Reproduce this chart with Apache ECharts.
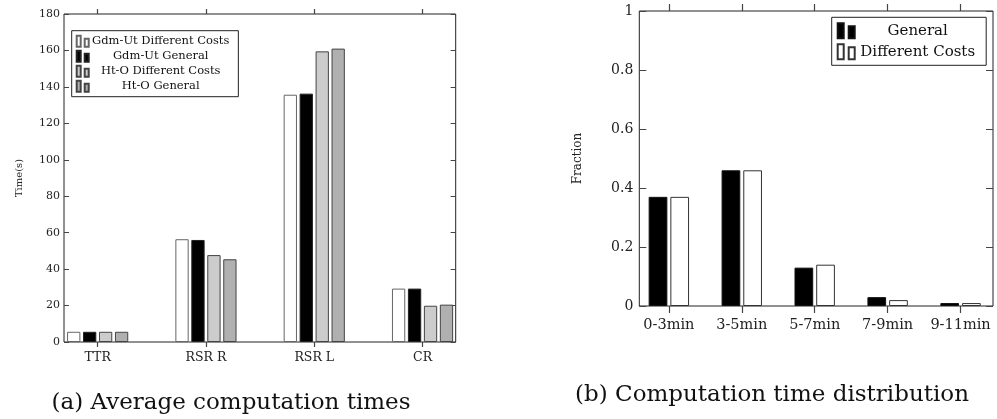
<!DOCTYPE html>
<html>
<head>
<meta charset="utf-8">
<script src="https://cdn.jsdelivr.net/npm/echarts@6/dist/echarts.min.js"></script>
<style>
  html, body { margin: 0; padding: 0; background: #fff; }
  #chart { width: 997px; height: 419px; }
</style>
</head>
<body>
<div id="chart"></div>
<script>
// (a) average computation times
const catsA = ['TTR', 'RSR R', 'RSR L', 'CR']
const gdmDiff = [5.6, 56.4, 135.7, 29.3]
const gdmGen = [5.6, 56.0, 136.3, 29.3]
const htoDiff = [5.6, 47.7, 159.5, 19.9]
const htoGen = [5.6, 45.4, 161.0, 20.5]
const ticksA = { min: 0, max: 180, interval: 20 }

// (b) computation time distribution
const catsB = ['0-3min', '3-5min', '5-7min', '7-9min', '9-11min']
const general = [0.37, 0.46, 0.13, 0.03, 0.01]
const diffCosts = [0.37, 0.46, 0.14, 0.02, 0.01]
const ticksB = { min: 0, max: 1, interval: 0.2 }

const font = 'DejaVu Serif'
const tickColor = '#444'
const myChart = echarts.init(document.getElementById('chart'))

// frame grid + wider band grid so category centres sit where pgfplots put them
function frameAxes (grid, ticks, fontSize, tickLen, labelMargin, name, nameGap, nameSize) {
  return [
    {
      gridIndex: grid, type: 'value', min: ticks.min, max: ticks.max, interval: ticks.interval,
      name: name, nameLocation: 'middle', nameGap: nameGap,
      nameTextStyle: { fontFamily: font, fontSize: nameSize, color: '#222' },
      axisLine: { show: false },
      axisTick: { inside: true, length: tickLen, lineStyle: { color: tickColor } },
      axisLabel: { fontFamily: font, fontSize: fontSize, color: '#222', margin: labelMargin },
      splitLine: { show: false }
    },
    {
      gridIndex: grid, type: 'value', position: 'right', min: ticks.min, max: ticks.max, interval: ticks.interval,
      axisLine: { show: false },
      axisTick: { inside: true, length: tickLen, lineStyle: { color: tickColor } },
      axisLabel: { show: false },
      splitLine: { show: false }
    }
  ]
}

function bandAxes (grid, cats, fontSize, tickLen, labelMargin) {
  return [
    {
      gridIndex: grid, type: 'category', data: cats, position: 'bottom',
      axisLine: { show: true, onZero: false, lineStyle: { color: 'rgba(0,0,0,0)' } },
      axisTick: { show: true, interval: 0, alignWithLabel: true, length: tickLen, lineStyle: { color: tickColor, width: 1.2 } },
      axisLabel: { interval: 0, fontFamily: font, fontSize: fontSize, color: '#222', margin: labelMargin }
    },
    {
      gridIndex: grid, type: 'category', data: cats, position: 'top',
      axisLine: { show: true, onZero: false, lineStyle: { color: 'rgba(0,0,0,0)' } },
      axisTick: { show: true, interval: 0, alignWithLabel: true, length: tickLen, lineStyle: { color: tickColor, width: 1.2 } },
      axisLabel: { show: false }
    }
  ]
}

function barSeries (name, data, color, border, xi, yi, width, gap) {
  return {
    name: name, type: 'bar', data: data, xAxisIndex: xi, yAxisIndex: yi,
    barWidth: width, barGap: gap,
    itemStyle: { color: color, borderColor: border, borderWidth: 1 }
  }
}

const option = {
  animation: false,
  backgroundColor: '#fff',
  title: [
    { text: '(a) Average computation times', left: 226, top: 387, textAlign: 'center',
      textStyle: { fontFamily: font, fontSize: 23, fontWeight: 'normal', color: '#111' } },
    { text: '(b) Computation time distribution', left: 767, top: 379, textAlign: 'center',
      textStyle: { fontFamily: font, fontSize: 23, fontWeight: 'normal', color: '#111' } }
  ],
  grid: [
    { left: 64, top: 14, width: 391.7, height: 328, show: true, borderColor: '#222', borderWidth: 1 },
    { left: 43.5, top: 14, width: 433.2, height: 328 },
    { left: 639.3, top: 11, width: 353.7, height: 295, show: true, borderColor: '#222', borderWidth: 1 },
    { left: 632.4, top: 11, width: 368.75, height: 295 }
  ],
  legend: [
    {
      orient: 'vertical', left: 71.7, top: 30.7, padding: [4, 9, 4, 4], itemGap: 2,
      itemWidth: 13, itemHeight: 11, borderColor: '#222', borderWidth: 1, backgroundColor: '#fff',
      icon: 'path://M0,0h4v11h-4z M8,3h4v8h-4z',
      formatter: '{t|{name}}',
      textStyle: { fontFamily: font, fontSize: 11.5, color: '#111',
        rich: { t: { width: 133, align: 'center', fontFamily: font, fontSize: 11.5, lineHeight: 14, color: '#111' } } },
      data: ['Gdm-Ut Different Costs', 'Gdm-Ut General', 'Ht-O Different Costs', 'Ht-O General']
    },
    {
      orient: 'vertical', left: 831.7, top: 17.3, padding: [5, 11, 5, 5], itemGap: 4,
      itemWidth: 18, itemHeight: 15, borderColor: '#222', borderWidth: 1, backgroundColor: '#fff',
      icon: 'path://M0,0h6v15h-6z M11,3h6v12h-6z',
      formatter: '{t|{name}}',
      textStyle: { fontFamily: font, fontSize: 15, color: '#111',
        rich: { t: { width: 115, align: 'center', fontFamily: font, fontSize: 15, lineHeight: 19, color: '#111' } } },
      data: ['General', 'Different Costs']
    }
  ],
  xAxis: [
    { gridIndex: 0, type: 'value', show: false },
    ...bandAxes(1, catsA, 12.5, 5, 9),
    { gridIndex: 2, type: 'value', show: false },
    ...bandAxes(3, catsB, 14.5, 7, 12)
  ],
  yAxis: [
    ...frameAxes(0, ticksA, 11, 5, 4, 'Time(s)', 40, 10),
    { gridIndex: 1, type: 'value', min: ticksA.min, max: ticksA.max, show: false },
    ...frameAxes(2, ticksB, 14, 7, 6, 'Fraction', 55, 12),
    { gridIndex: 3, type: 'value', min: ticksB.min, max: ticksB.max, show: false }
  ],
  series: [
    barSeries('Gdm-Ut Different Costs', gdmDiff, '#ffffff', '#666', 1, 2, 13.3, '20%'),
    barSeries('Gdm-Ut General', gdmGen, '#000000', '#222', 1, 2, 13.3, '20%'),
    barSeries('Ht-O Different Costs', htoDiff, '#cccccc', '#444', 1, 2, 13.3, '20%'),
    barSeries('Ht-O General', htoGen, '#b0b0b0', '#444', 1, 2, 13.3, '20%'),
    barSeries('General', general, '#000000', '#111', 4, 5, 18.7, '16%'),
    barSeries('Different Costs', diffCosts, '#ffffff', '#333', 4, 5, 18.7, '16%')
  ]
}

myChart.setOption(option)
</script>
</body>
</html>
